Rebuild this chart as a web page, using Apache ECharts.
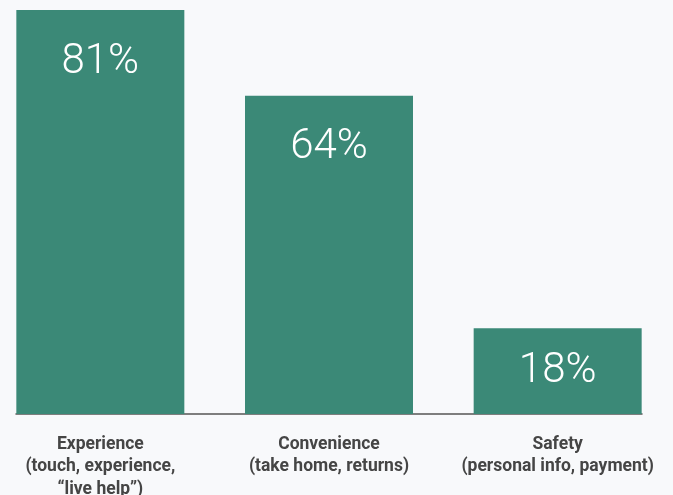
<!DOCTYPE html>
<html>
<head>
<meta charset="utf-8">
<style>
  html, body { margin: 0; padding: 0; background: #f8f9fb; }
  #chart { width: 673px; height: 495px; }
</style>
<script src="https://cdn.jsdelivr.net/npm/echarts@6/dist/echarts.min.js"></script>
</head>
<body>
<div id="chart"></div>
<script>
// Share of shoppers naming each reason for buying in store
const categories = [
  'Experience\n(touch, experience,\n\u201clive help\u201d)',
  'Convenience\n(take home, returns)',
  'Safety\n(personal info, payment)'
];
const shares = [81, 64, 18];

const barColor = '#3b8977';

const chart = echarts.init(document.getElementById('chart'), null, { renderer: 'canvas' });

// Short bars get their value centred; taller ones keep it near the top.
const barData = shares.map(v => ({
  value: v,
  label: v < 30 ? { position: 'inside' } : { position: 'insideTop', distance: 31 }
}));

chart.setOption({
  backgroundColor: '#f8f9fb',
  animation: false,
  grid: [
    // bars
    { left: -14, right: 1, top: 10, bottom: 81, outerBoundsMode: 'none' },
    // baseline running from the first bar's left edge to the last bar's right edge
    { left: 16, right: 31, top: 10, bottom: 81, outerBoundsMode: 'none' }
  ],
  xAxis: [
    {
      type: 'category',
      gridIndex: 0,
      data: categories,
      axisLine: { show: false },
      axisTick: { show: false },
      axisLabel: {
        margin: 19,
        interval: 0,
        color: '#454545',
        fontFamily: 'Roboto',
        fontWeight: 'bold',
        fontSize: 17.5,
        lineHeight: 22.5,
        align: 'center'
      }
    },
    {
      type: 'category',
      gridIndex: 1,
      data: categories,
      axisLine: { show: true, lineStyle: { color: '#555555', width: 1.5 } },
      axisTick: { show: false },
      axisLabel: { show: false }
    }
  ],
  yAxis: [
    {
      type: 'value',
      gridIndex: 0,
      min: 1,
      max: 'dataMax',
      show: false
    },
    {
      type: 'value',
      gridIndex: 1,
      min: 0,
      max: 1,
      show: false
    }
  ],
  series: [
    {
      type: 'bar',
      xAxisIndex: 0,
      yAxisIndex: 0,
      data: barData,
      barWidth: 168,
      itemStyle: { color: barColor },
      label: {
        show: true,
        formatter: '{c}%',
        color: '#ffffff',
        fontFamily: 'Roboto',
        fontWeight: 300,
        fontSize: 42
      }
    }
  ]
});
</script>
</body>
</html>
